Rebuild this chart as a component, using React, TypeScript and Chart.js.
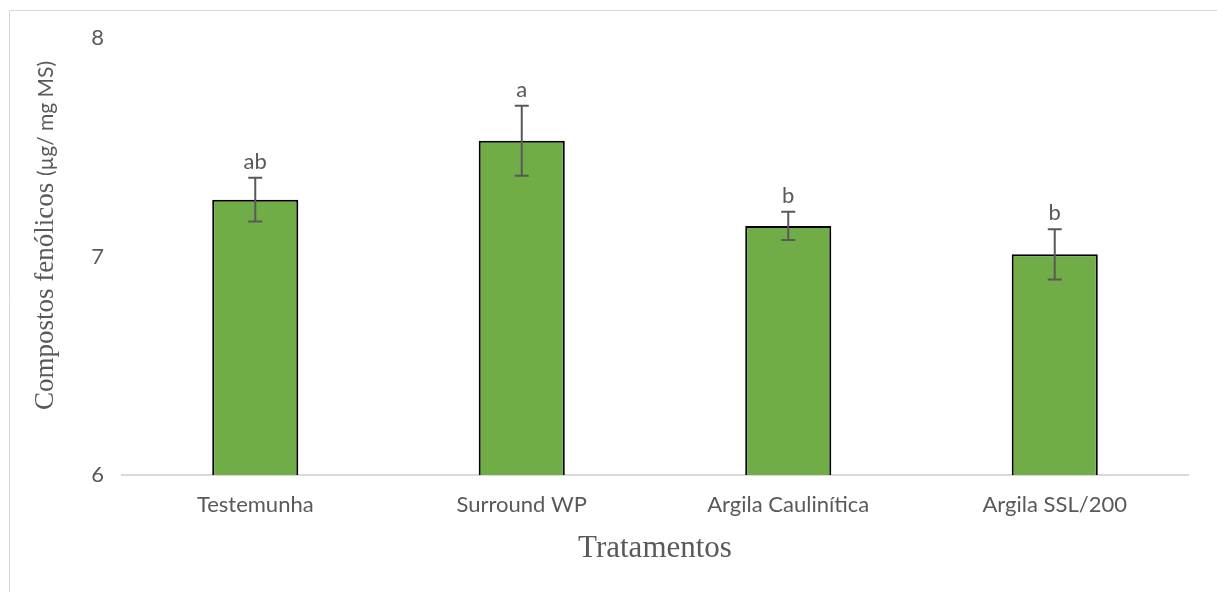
import React, { useEffect, useRef } from "react";
import { Chart, registerables } from "chart.js";

Chart.register(...registerables);

const categories = ["Testemunha", "Surround WP", "Argila Caulinítica", "Argila SSL/200"];
const values = [7.26, 7.53, 7.14, 7.01];
const errors = [0.10, 0.16, 0.065, 0.115];
const letters = ["ab", "a", "b", "b"];
const yTicks = [6, 7, 8];
const yTitleMain = "Compostos fenólicos ";
const yTitleUnit = "(µg/ mg MS)";
const xTitle = "Tratamentos";

const SANS = "Lato, 'Open Sans', sans-serif";
const SERIF = "'Liberation Serif', 'DejaVu Serif', serif";

const extrasPlugin = {
  id: "extras",
  afterDatasetsDraw(chart: any) {
    const { ctx, scales } = chart;
    const x = scales.x;
    const y = scales.y;
    ctx.save();
    values.forEach((v, i) => {
      const cx = x.getPixelForValue(i);
      const top = y.getPixelForValue(v + errors[i]);
      const bot = y.getPixelForValue(v - errors[i]);
      ctx.strokeStyle = "#595959";
      ctx.lineWidth = 2;
      ctx.beginPath();
      ctx.moveTo(cx, top);
      ctx.lineTo(cx, bot);
      ctx.moveTo(cx - 7, top);
      ctx.lineTo(cx + 7, top);
      ctx.moveTo(cx - 7, bot);
      ctx.lineTo(cx + 7, bot);
      ctx.stroke();
      ctx.fillStyle = "#595959";
      ctx.font = `22px ${SANS}`;
      ctx.textAlign = "center";
      ctx.textBaseline = "alphabetic";
      ctx.fillText(letters[i], cx, top - 9);
    });
    ctx.restore();
  },
  afterDraw(chart: any) {
    const { ctx, chartArea } = chart;
    ctx.save();
    ctx.strokeStyle = "#d9d9d9";
    ctx.lineWidth = 1;
    ctx.beginPath();
    ctx.moveTo(9.5, 600);
    ctx.lineTo(9.5, 10.5);
    ctx.lineTo(1230, 10.5);
    ctx.stroke();
    ctx.fillStyle = "#595959";
    ctx.translate(53, 410);
    ctx.rotate(-Math.PI / 2);
    ctx.textAlign = "left";
    ctx.textBaseline = "alphabetic";
    ctx.font = `27px ${SERIF}`;
    ctx.fillText(yTitleMain, 0, 0);
    const w1 = ctx.measureText(yTitleMain).width;
    ctx.font = `21px ${SANS}`;
    ctx.fillText(yTitleUnit, w1, 0);
    ctx.restore();
    ctx.save();
    ctx.fillStyle = "#595959";
    ctx.font = `31px ${SERIF}`;
    ctx.textAlign = "center";
    ctx.textBaseline = "middle";
    ctx.fillText(xTitle, (chartArea.left + chartArea.right) / 2, 549);
    ctx.restore();
  },
};

export default function App() {
  const ref = useRef<HTMLCanvasElement>(null);
  useEffect(() => {
    const chart = new Chart(ref.current!, {
      type: "bar",
      data: {
        labels: categories,
        datasets: [
          {
            data: values,
            backgroundColor: "#70AD47",
            borderColor: "#000000",
            borderWidth: 2,
            borderSkipped: "bottom",
            barPercentage: 0.323,
            categoryPercentage: 1,
          },
        ],
      },
      options: {
        animation: false,
        responsive: false,
        maintainAspectRatio: false,
        layout: { padding: { top: 38, right: 29, left: 0, bottom: 0 } },
        plugins: {
          legend: { display: false },
          tooltip: { enabled: false },
          title: { display: false },
        },
        scales: {
          x: {
            grid: { display: false, drawTicks: false },
            border: { display: true, color: "#d9d9d9", width: 2 },
            ticks: {
              color: "#595959",
              font: { family: SANS, size: 22 },
              padding: 17,
              maxRotation: 0,
              autoSkip: false,
            },
            afterFit: (s: any) => {
              s.height = 117;
            },
          },
          y: {
            min: 6,
            max: 8,
            afterBuildTicks: (s: any) => {
              s.ticks = yTicks.map((v) => ({ value: v }));
            },
            grid: { display: false, drawTicks: false },
            border: { display: false },
            ticks: {
              color: "#595959",
              font: { family: SANS, size: 22 },
              padding: 18,
            },
            afterFit: (s: any) => {
              s.width = 122;
            },
          },
        },
      },
      plugins: [extrasPlugin],
    });
    return () => chart.destroy();
  }, []);
  return (
    <div style={{ position: "fixed", left: 0, top: 0, width: 1217, height: 592, background: "#fff" }}>
      <canvas ref={ref} width={1217} height={592} style={{ width: 1217, height: 592, display: "block" }} />
    </div>
  );
}
